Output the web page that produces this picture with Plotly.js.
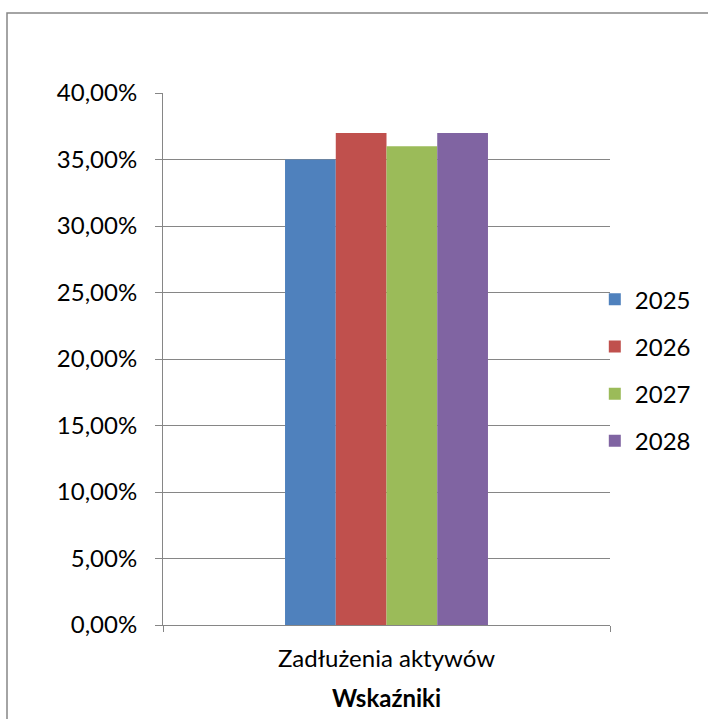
<!DOCTYPE html>
<html>
<head>
<meta charset="utf-8">
<script src="https://cdn.plot.ly/plotly-3.0.1.min.js"></script>
<style>html,body{margin:0;padding:0;background:#fff;}#chart{width:708px;height:719px;}</style>
</head>
<body>
<div id="chart"></div>
<script>
const categories = ["Zadłużenia aktywów"];
const seriesNames = ["2025", "2026", "2027", "2028"];
const values2025 = [0.35];
const values2026 = [0.37];
const values2027 = [0.36];
const values2028 = [0.37];
const seriesValues = [values2025, values2026, values2027, values2028];
const colors = ["#4F81BD", "#C0504D", "#9BBB59", "#8064A2"];
const yTicks = [0, 0.05, 0.10, 0.15, 0.20, 0.25, 0.30, 0.35, 0.40];

const FONT = "Lato, 'Open Sans', sans-serif";
const FS = 24;
const traces = seriesNames.map((n, i) => ({
  type: "bar",
  name: n,
  x: categories,
  y: seriesValues[i],
  marker: {color: colors[i], line: {width: 0}},
  legendgroup: n,
  hoverinfo: "none"
}));

const L = 163, R = 98, T = 93, B = 94;
const pw = 708 - L - R, ph = 719 - T - B;

const layout = {
  width: 708, height: 719,
  margin: {l: L, r: R, t: T, b: B, pad: 0, autoexpand: false},
  paper_bgcolor: "#fff", plot_bgcolor: "#fff",
  separators: ",.",
  barmode: "group",
  bargap: 0.546,
  bargroupgap: 0,
  font: {family: FONT, size: FS, color: "#000"},
  showlegend: true,
  legend: {
    x: 0.966, xanchor: "left", xref: "paper",
    y: 0.479, yanchor: "middle",
    traceorder: "grouped",
    tracegroupgap: 13,
    font: {family: FONT, size: FS, color: "#000"},
    itemwidth: 30,
    bgcolor: "rgba(0,0,0,0)"
  },
  xaxis: {
    type: "category",
    showline: true, linecolor: "#868686", linewidth: 1,
    ticks: "outside", ticklen: 6, tickcolor: "#868686",
    tickson: "boundaries",
    showgrid: false,
    tickfont: {family: FONT, size: FS, color: "#000"},
    ticklabelstandoff: 12,
    title: {text: "<b>Wskaźniki</b>", font: {family: FONT, size: FS, color: "#000"}, standoff: 19}
  },
  yaxis: {
    range: [0, 0.40],
    tickvals: yTicks,
    tickformat: ".2%",
    showline: true, linecolor: "#868686", linewidth: 1,
    ticks: "outside", ticklen: 7, tickcolor: "#868686",
    showgrid: true, gridcolor: "#868686", gridwidth: 1,
    zeroline: false,
    tickfont: {family: FONT, size: FS, color: "#000"},
    ticklabelstandoff: 13
  },
  shapes: [{
    type: "rect", xref: "paper", yref: "paper",
    x0: (7 - L) / pw, x1: (720 - L) / pw,
    y0: (719 - 730 - B) / ph, y1: (719 - 13 - B) / ph,
    line: {color: "#868686", width: 1.5}, fillcolor: "rgba(0,0,0,0)", layer: "below"
  }]
};

Plotly.newPlot("chart", traces, layout, {displayModeBar: false, staticPlot: true});
</script>
</body>
</html>
